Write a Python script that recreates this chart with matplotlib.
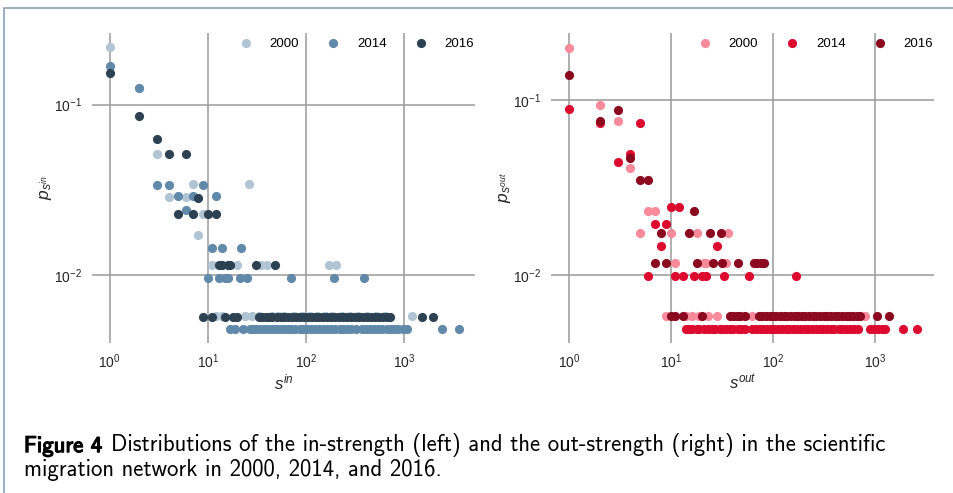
import numpy as np
import matplotlib
matplotlib.use('Agg')
import matplotlib.pyplot as plt
import matplotlib.patheffects as pe
from matplotlib.lines import Line2D
from matplotlib.ticker import LogLocator, NullLocator

plt.rcParams['font.family'] = ['Liberation Sans', 'DejaVu Sans']
plt.rcParams['mathtext.fontset'] = 'custom'
plt.rcParams['mathtext.rm'] = 'Liberation Sans'
plt.rcParams['mathtext.it'] = 'Liberation Sans:italic'
plt.rcParams['mathtext.sf'] = 'Liberation Sans'

years = ['2000', '2014', '2016']

# ---- in-strength: strength values, node counts and number of nodes ----
n_in = [175, 208, 176]
in_s_2000 = [1, 2, 3, 4, 6, 7, 26, 9, 8, 11, 20, 35, 40, 172, 202]
in_c_2000 = [38, 22, 9, 5, 5, 6, 6, 4, 3, 2, 2, 2, 2, 2, 2]
in_single_2000 = [12, 14, 24, 28, 33, 45, 52, 60, 75, 90, 110, 130, 155, 185, 230,
                  280, 340, 420, 520, 640, 1199]

in_s_2014 = [1, 2, 3, 4, 9, 5, 7, 12, 6, 11, 14, 22, 10, 13, 15, 16, 21, 25, 70, 193, 388]
in_c_2014 = [35, 26, 7, 7, 7, 6, 6, 6, 5, 3, 3, 3, 2, 2, 2, 2, 2, 2, 2, 2, 2]
in_single_2014 = [17, 19, 23, 27, 29, 31, 34, 37, 41, 45, 49, 54, 59, 65, 71, 78, 86, 94,
                  103, 113, 124, 136, 150, 165, 181, 199, 219, 240, 264, 290, 320, 370,
                  410, 450, 495, 545, 600, 660, 725, 780, 870, 960, 1070, 2426, 3580]

in_s_2016 = [1, 2, 3, 4, 6, 8, 5, 7, 10, 12, 13, 14, 16, 17, 31, 48]
in_c_2016 = [27, 15, 11, 9, 9, 5, 4, 4, 4, 4, 2, 2, 2, 2, 2, 2]
in_single_2016 = [9, 11, 15, 18, 20, 33, 36, 39, 42, 45, 51, 55, 60, 66, 72, 79, 87, 95,
                  104, 114, 125, 137, 150, 165, 181, 199, 218, 240, 263, 289, 317, 348,
                  382, 420, 460, 505, 555, 610, 670, 720, 1514, 1963]

# ---- out-strength ----
n_out = [172, 204, 172]
out_s_2000 = [1, 2, 3, 4, 6, 7, 5, 10, 18, 36, 11, 21, 22, 35]
out_c_2000 = [34, 16, 13, 7, 4, 4, 3, 3, 3, 3, 2, 2, 2, 2]
out_single_2000 = [9, 14, 16, 19, 23, 28, 42, 52, 62, 85, 120, 180, 250, 350, 480, 600, 798]

out_s_2014 = [1, 2, 3, 4, 5, 10, 12, 7, 9, 8, 28, 6, 11, 13, 17, 20, 22, 33, 58, 168]
out_c_2014 = [18, 15, 9, 10, 15, 5, 5, 4, 4, 3, 3, 2, 2, 2, 2, 2, 2, 2, 2, 2]
out_single_2014 = [14, 15, 16, 18, 19, 21, 23, 25, 27, 30, 32, 35, 38, 41, 45, 49, 53, 63,
                   68, 74, 80, 87, 95, 103, 112, 122, 133, 145, 158, 172, 187, 204, 222,
                   242, 263, 287, 312, 340, 370, 400, 440, 480, 525, 575, 630, 680, 900,
                   980, 1070, 1170, 1250, 1870, 2560]

out_s_2016 = [1, 2, 3, 4, 5, 6, 8, 15, 24, 31, 17, 7, 9, 18, 26, 32, 45, 65, 70, 76, 82]
out_c_2016 = [24, 13, 15, 8, 6, 6, 3, 3, 3, 3, 4, 2, 2, 2, 2, 2, 2, 2, 2, 2, 2]
out_single_2016 = [10, 11, 13, 20, 38, 41, 44, 48, 53, 73, 79, 86, 93, 100, 108, 117, 127,
                   138, 150, 163, 177, 192, 208, 226, 245, 266, 289, 314, 341, 370, 402,
                   436, 474, 515, 560, 610, 660, 710, 1039, 1381]

blues = ['#b0c4d3', '#6189aa', '#2c4253']
reds = ['#f98a9b', '#dc0a2e', '#8b0a20']

in_data = [(in_s_2000, in_c_2000, in_single_2000),
           (in_s_2014, in_c_2014, in_single_2014),
           (in_s_2016, in_c_2016, in_single_2016)]
out_data = [(out_s_2000, out_c_2000, out_single_2000),
            (out_s_2014, out_c_2014, out_single_2014),
            (out_s_2016, out_c_2016, out_single_2016)]

fig = plt.figure(figsize=(9.54, 4.93), dpi=100)
fig.patch.set_facecolor('white')
ax1 = fig.add_axes([0.0964, 0.3043, 0.4015, 0.6288])
ax2 = fig.add_axes([0.5776, 0.3043, 0.4015, 0.6288])


def draw(ax, data, totals, colors, xlim, ylim, lab):
    for (s, c, single), n, col, yr in zip(data, totals, colors, years):
        xs = np.array(s + single, dtype=float)
        ps = np.array(c + [1] * len(single), dtype=float) / n
        ax.plot(xs, ps, 'o', ms=6.6, color=col, mec='none', label=yr, zorder=3)
    ax.set_xscale('log')
    ax.set_yscale('log')
    ax.set_xlim(10 ** xlim[0], 10 ** xlim[1])
    ax.set_ylim(10 ** ylim[0], 10 ** ylim[1])
    ax.xaxis.set_major_locator(LogLocator(base=10, numticks=10))
    ax.yaxis.set_major_locator(LogLocator(base=10, numticks=10))
    ax.xaxis.set_minor_locator(NullLocator())
    ax.yaxis.set_minor_locator(NullLocator())
    ax.grid(True, color='#9a9a9a', lw=1.1, zorder=0)
    ax.set_axisbelow(True)
    for sp in ax.spines.values():
        sp.set_visible(False)
    ax.tick_params(length=0, labelsize=10, labelcolor='#262626', pad=7)
    ax.set_xlabel(r'$s^{%s}$' % lab, fontsize=12, color='#262626', labelpad=1)
    ax.set_ylabel(r'$p_{s^{%s}}$' % lab, fontsize=12.5, color='#262626', labelpad=0)
    ax.legend(loc='upper right', bbox_to_anchor=(1.012, 1.0), ncol=3, frameon=False,
              fontsize=9.5, handlelength=2.0, handletextpad=0.8, columnspacing=1.6,
              borderaxespad=0.0, markerscale=1.0)


draw(ax1, in_data, n_in, blues, (-0.18, 3.72), (-2.4, -0.58), 'in')
draw(ax2, out_data, n_out, reds, (-0.176, 3.58), (-2.389, -0.617), 'out')

# page frame (top and left edges)
fig.add_artist(Line2D([0.0047, 0.0047, 1.0], [0.0, 0.9828, 0.9828],
                      transform=fig.transFigure, color='#8aa0bb', lw=1.2))

# caption
cap_size = 16.4
t1 = fig.text(0.025, 0.083, 'Figure 4', family='cmss10', fontsize=cap_size, color='black',
              path_effects=[pe.withStroke(linewidth=0.9, foreground='black')])
ax1.annotate('Distributions of the in-strength (left) and the out-strength (right) in the scientific',
             xy=(1, 0), xycoords=t1, xytext=(6, 0), textcoords='offset points',
             family='cmss10', fontsize=cap_size, color='black', va='bottom',
             annotation_clip=False)
fig.text(0.025, 0.035, 'migration network in 2000, 2014, and 2016.',
         family='cmss10', fontsize=cap_size, color='black')

fig.savefig('out.png', dpi=100, facecolor='white')
